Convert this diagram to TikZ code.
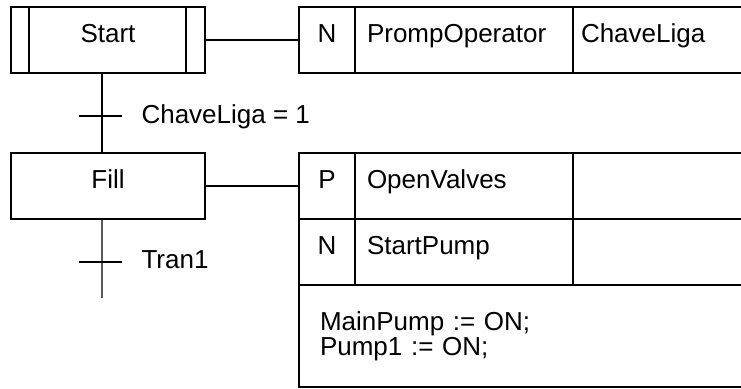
\documentclass[tikz,border=0pt]{standalone}
\usepackage{fontspec}
\setmainfont{Liberation Sans}
\usetikzlibrary{positioning}

\tikzset{
  stepbox/.style={draw, minimum width=194bp, minimum height=66bp, outer sep=0pt,
    text height=18.6bp, text depth=13bp},
  cell/.style={draw, minimum height=66bp, outer sep=0pt, inner ysep=0pt,
    text height=18.6bp, text depth=13bp},
  qual/.style={cell, minimum width=56bp, inner xsep=0pt},
  act/.style={cell, text width=194bp, inner xsep=12bp, align=left},
  ind/.style={cell, text width=156bp, inner xsep=8bp, align=left},
  cond/.style={anchor=base west, inner sep=0pt}
}

\begin{document}
\begin{tikzpicture}[x=1bp, y=-1bp, line width=1.1bp,
    every node/.style={font=\fontsize{26bp}{23bp}\selectfont}]
  \clip (0,0) rectangle (741,388);

  % Initial step
  \node[stepbox] (start) at (108,40) {Start};
  \draw ([xshift=18bp]start.north west) -- ([xshift=18bp]start.south west);
  \draw ([xshift=-19bp]start.north east) -- ([xshift=-19bp]start.south east);

  % Step Fill
  \node[stepbox, below=80bp of start] (fill) {Fill};

  % Action of Start
  \node[qual, right=94bp of start] (q1) {N};
  \node[act, right=0pt of q1] (a1) {PrompOperator};
  \node[ind, right=0pt of a1] (i1) {ChaveLiga};
  \draw (start.east) -- (q1.west);

  % Actions of Fill
  \node[qual, right=94bp of fill] (q2) {P};
  \node[act, right=0pt of q2] (a2) {OpenValves};
  \node[ind, right=0pt of a2] (i2) {};
  \node[qual, below=0pt of q2] (q3) {N};
  \node[act, right=0pt of q3] (a3) {StartPump};
  \node[ind, right=0pt of a3] (i3) {};
  \node[draw, outer sep=0pt, anchor=north west, minimum height=102bp,
    text width=405bp, inner xsep=21bp, align=left] (code) at (q3.south west)
    {MainPump := ON;\\Pump1 := ON;};
  \draw (fill.east) -- (q2.west);

  % Transition ChaveLiga = 1
  \coordinate (t1) at (102,116);
  \draw ([xshift=-6bp]start.south) -- ([xshift=-6bp]fill.north);
  \draw ([xshift=-23bp]t1) -- ([xshift=20bp]t1);
  \node[cond] (c1) at ([shift={(39bp,-7bp)}]t1) {ChaveLiga = 1};

  % Transition Tran1
  \coordinate (t2) at (102,262);
  \coordinate (out) at (102,298);
  \draw ([xshift=-6bp]fill.south) -- (out);
  \draw ([xshift=-23bp]t2) -- ([xshift=20bp]t2);
  \node[cond] (c2) at ([shift={(39bp,-6bp)}]t2) {Tran1};
\end{tikzpicture}
\end{document}
